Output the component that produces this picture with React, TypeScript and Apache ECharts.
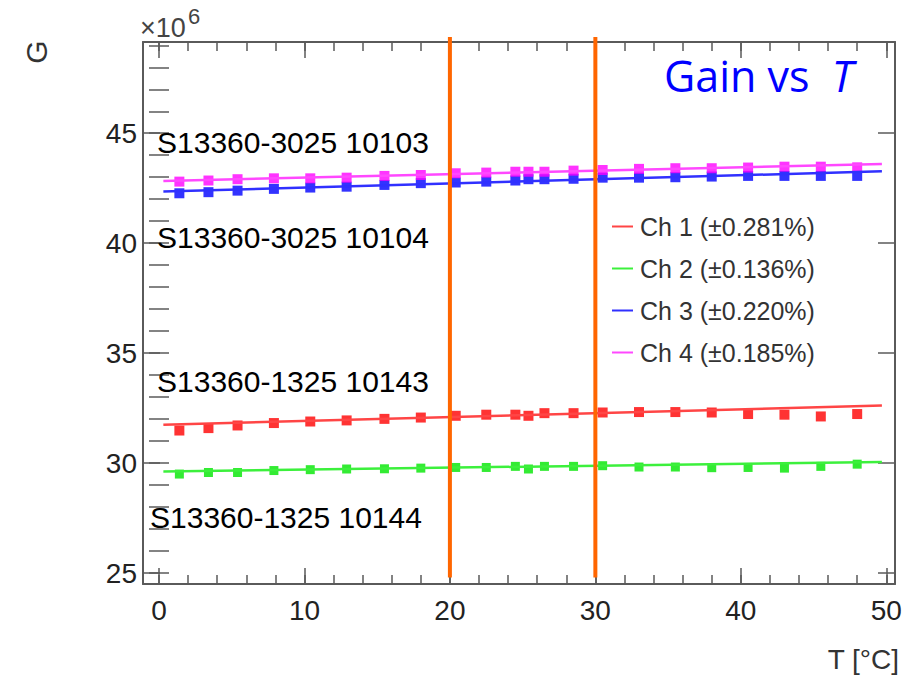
import React, { useEffect, useRef } from "react";
import * as echarts from "echarts";

// Temperature points [°C] shared by all four channels
const temps = [1.4, 3.4, 5.4, 7.9, 10.4, 12.9, 15.5, 18.0, 20.4, 22.5, 24.5, 25.4, 26.5, 28.5, 30.5, 33.0, 35.5, 38.0, 40.5, 43.0, 45.5, 48.0];

// Gain [×10^6] per channel
const ch1Gain = [31.48, 31.59, 31.71, 31.82, 31.89, 31.94, 32.01, 32.07, 32.15, 32.2, 32.2, 32.15, 32.27, 32.27, 32.3, 32.32, 32.32, 32.3, 32.23, 32.2, 32.12, 32.23];
const ch2Gain = [29.5, 29.57, 29.57, 29.66, 29.7, 29.73, 29.74, 29.77, 29.8, 29.8, 29.85, 29.73, 29.85, 29.85, 29.88, 29.82, 29.82, 29.79, 29.8, 29.77, 29.85, 29.95];
const ch3Gain = [42.27, 42.32, 42.39, 42.47, 42.53, 42.57, 42.65, 42.73, 42.76, 42.8, 42.85, 42.91, 42.91, 42.93, 42.98, 42.98, 43.0, 43.03, 43.06, 43.06, 43.06, 43.06];
const ch4Gain = [42.8, 42.85, 42.91, 42.95, 42.95, 42.98, 43.06, 43.1, 43.18, 43.21, 43.25, 43.25, 43.25, 43.3, 43.33, 43.38, 43.41, 43.41, 43.44, 43.48, 43.48, 43.45];

// Linear fit end points: [T start, T end] and gain at each end
const fitRange = [0.3, 49.7];
const ch1Fit = [31.74, 32.62];
const ch2Fit = [29.62, 30.05];
const ch3Fit = [42.35, 43.27];
const ch4Fit = [42.83, 43.6];

const channelNames = ["Ch 1 (±0.281%)", "Ch 2 (±0.136%)", "Ch 3 (±0.220%)", "Ch 4 (±0.185%)"];

// Temperature window marked by the vertical lines, and their vertical extent
const windowT = [20, 30];
const windowG = [49.38, 24.79];

// Tick values
const xMajor = [0, 10, 20, 30, 40, 50];
const xMinor = [0, 2, 4, 6, 8, 10, 12, 14, 16, 18, 20, 22, 24, 26, 28, 30, 32, 34, 36, 38, 40, 42, 44, 46, 48, 50];
const yMajor = [25, 30, 35, 40, 45];
const yMinor = [25, 26, 27, 28, 29, 30, 31, 32, 33, 34, 35, 36, 37, 38, 39, 40, 41, 42, 43, 44, 45, 46, 47, 48, 49];

const sensorLabels = [
  { text: "S13360-3025 10103", x: 157, y: 142 },
  { text: "S13360-3025 10104", x: 157, y: 237 },
  { text: "S13360-1325 10143", x: 157, y: 381 },
  { text: "S13360-1325 10144", x: 150, y: 517 },
];

const X_MIN = -1.1;
const X_MAX = 50.6;
const Y_MIN = 24.5;
const Y_MAX = 49.15;

const FONT = "'Liberation Sans', Arial, Helvetica, sans-serif";
const FRAME = "#5a5a5a";

const markerColors = ["#ff0000", "#00e600", "#0000ff", "#ff00ff"];
const lineColors = ["#ff4545", "#3cf03c", "#3030ff", "#ff48ff"];

export default function App() {
  const ref = useRef<HTMLDivElement>(null);

  useEffect(() => {
    if (!ref.current) return;
    const chart = echarts.init(ref.current, null, { renderer: "svg" });

    const gains = [ch1Gain, ch2Gain, ch3Gain, ch4Gain];
    const fits = [ch1Fit, ch2Fit, ch3Fit, ch4Fit];

    const xAxisBase = {
      type: "value",
      min: X_MIN,
      max: X_MAX,
      splitLine: { show: false },
    };
    const yAxisBase = {
      type: "value",
      min: Y_MIN,
      max: Y_MAX,
      splitLine: { show: false },
    };
    const frameLine = { show: true, onZero: false, lineStyle: { color: FRAME, width: 2 } };
    const tickStyle = { color: FRAME, width: 1.5 };

    const scatterSeries = gains.map((g, i) => ({
      type: "scatter",
      name: "pts" + (i + 1),
      xAxisIndex: 0,
      yAxisIndex: 0,
      symbol: "rect",
      symbolSize: i === 1 ? 9 : 10,
      itemStyle: { color: markerColors[i] },
      data: temps.map((t, k) => [t, g[k]]),
      z: 3,
    }));

    const fitSeries = fits.map((f, i) => ({
      type: "line",
      name: channelNames[i],
      xAxisIndex: 0,
      yAxisIndex: 0,
      symbol: "none",
      lineStyle: { color: lineColors[i], width: 2.5 },
      itemStyle: { color: lineColors[i] },
      data: [
        [fitRange[0], f[0]],
        [fitRange[1], f[1]],
      ],
      z: 4,
    }));

    // Vertical lines bounding the operating temperature window
    const windowSeries = {
      type: "custom",
      name: "window",
      xAxisIndex: 0,
      yAxisIndex: 0,
      clip: false,
      silent: true,
      data: windowT.map((t) => [t]),
      renderItem: (_params: any, api: any) => {
        const t = api.value(0);
        const top = api.coord([t, windowG[0]]);
        const bottom = api.coord([t, windowG[1]]);
        return {
          type: "line",
          shape: { x1: top[0], y1: top[1], x2: bottom[0], y2: bottom[1] },
          style: { stroke: "#ff6600", lineWidth: 4 },
        };
      },
      z: 6,
    };

    const option = {
      animation: false,
      backgroundColor: "#ffffff",
      grid: { left: 143, right: 19, top: 42, bottom: 91, containLabel: false },
      legend: {
        data: channelNames.map((n) => ({ name: n, icon: "rect" })),
        orient: "vertical",
        left: 612,
        top: 214,
        padding: 0,
        itemWidth: 21,
        itemHeight: 2,
        itemGap: 17,
        textStyle: { fontFamily: FONT, fontSize: 25, color: "#333333", lineHeight: 25, padding: [0, 0, 0, 2] },
        selectedMode: false,
      },
      xAxis: [
        {
          ...xAxisBase,
          position: "bottom",
          axisLine: frameLine,
          axisTick: { show: true, inside: true, length: 16, lineStyle: tickStyle, customValues: xMajor },
          axisLabel: { show: true, customValues: xMajor, margin: 12, fontFamily: FONT, fontSize: 28, color: "#222222" },
        },
        {
          ...xAxisBase,
          position: "bottom",
          axisLine: { show: false },
          axisTick: { show: true, inside: true, length: 9, lineStyle: tickStyle, customValues: xMinor },
          axisLabel: { show: false },
        },
        {
          ...xAxisBase,
          position: "top",
          axisLine: frameLine,
          axisTick: { show: true, inside: true, length: 16, lineStyle: tickStyle, customValues: xMajor },
          axisLabel: { show: false },
        },
        {
          ...xAxisBase,
          position: "top",
          axisLine: { show: false },
          axisTick: { show: true, inside: true, length: 9, lineStyle: tickStyle, customValues: xMinor },
          axisLabel: { show: false },
        },
      ],
      yAxis: [
        {
          ...yAxisBase,
          position: "left",
          axisLine: frameLine,
          axisTick: { show: true, inside: true, length: 17, lineStyle: tickStyle, customValues: yMajor },
          axisLabel: { show: true, customValues: yMajor, margin: 6, fontFamily: FONT, fontSize: 28, color: "#222222" },
        },
        {
          ...yAxisBase,
          position: "left",
          axisLine: { show: false },
          axisTick: { show: true, inside: true, length: 10, lineStyle: tickStyle, customValues: yMinor },
          axisLabel: { show: false },
        },
        {
          ...yAxisBase,
          position: "right",
          axisLine: frameLine,
          axisTick: { show: true, inside: true, length: 17, lineStyle: tickStyle, customValues: yMajor },
          axisLabel: { show: false },
        },
        {
          ...yAxisBase,
          position: "right",
          axisLine: { show: false },
          axisTick: { show: true, inside: true, length: 10, lineStyle: tickStyle, customValues: yMinor },
          axisLabel: { show: false },
        },
      ],
      graphic: [
        {
          type: "text",
          left: 140,
          top: 14,
          style: { text: "×10", fontFamily: FONT, fontSize: 27, fill: "#444444" },
        },
        {
          type: "text",
          left: 188,
          top: 5,
          style: { text: "6", fontFamily: FONT, fontSize: 22, fill: "#444444" },
        },
        {
          type: "text",
          x: 36,
          y: 52,
          rotation: Math.PI / 2,
          style: { text: "G", fontFamily: FONT, fontSize: 30, fill: "#333333", align: "center", verticalAlign: "middle" },
        },
        {
          type: "text",
          x: 899,
          y: 659,
          style: { text: "T [°C]", fontFamily: FONT, fontSize: 28, fill: "#333333", align: "right", verticalAlign: "middle" },
        },
        {
          type: "text",
          x: 664,
          y: 75,
          style: {
            text: "{n|Gain vs  }{t|T}",
            verticalAlign: "middle",
            rich: {
              n: { fontFamily: "'Comic Sans MS', 'Open Sans', 'DejaVu Sans', sans-serif", fontSize: 43, fill: "#0000ff" },
              t: { fontFamily: "'Comic Sans MS', 'Open Sans', 'DejaVu Sans', sans-serif", fontSize: 43, fontStyle: "italic", fill: "#0000ff" },
            },
          },
          z: 10,
        },
        ...sensorLabels.map((s) => ({
          type: "text",
          x: s.x,
          y: s.y,
          style: { text: s.text, fontFamily: FONT, fontSize: 30, fill: "#000000", verticalAlign: "middle" },
          z: 10,
        })),
      ],
      series: [...scatterSeries, ...fitSeries, windowSeries],
    };

    chart.setOption(option as any);
    return () => chart.dispose();
  }, []);

  return <div ref={ref} style={{ width: 914, height: 675, position: "absolute", left: 0, top: 0 }} />;
}
